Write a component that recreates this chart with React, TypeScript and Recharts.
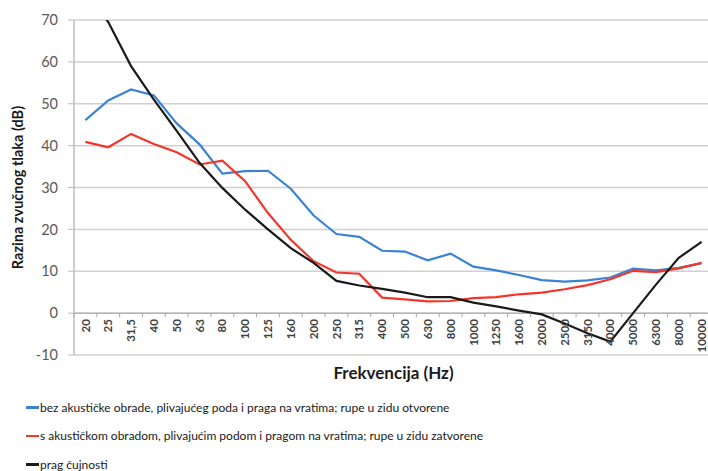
import { LineChart, Line, XAxis, YAxis, CartesianGrid, ReferenceLine, Legend } from "recharts";

const frequencies = [
  "20", "25", "31,5", "40", "50", "63", "80", "100", "125", "160", "200", "250", "315", "400",
  "500", "630", "800", "1000", "1250", "1600", "2000", "2500", "3150", "4000", "5000", "6300", "8000", "10000",
];

// bez akustičke obrade (dB)
const bezObrade = [
  46.1, 50.8, 53.4, 52.0, 45.3, 40.3, 33.3, 33.9, 34.0, 29.7, 23.3, 18.9, 18.2, 14.9,
  14.7, 12.6, 14.2, 11.1, 10.2, 9.1, 7.9, 7.5, 7.8, 8.5, 10.6, 10.2, 10.8, 11.9,
];

// s akustičkom obradom (dB)
const sObradom = [
  40.9, 39.6, 42.8, 40.4, 38.4, 35.5, 36.4, 31.5, 23.9, 17.5, 12.4, 9.7, 9.4, 3.7,
  3.3, 2.8, 2.9, 3.6, 3.8, 4.5, 4.9, 5.7, 6.7, 8.1, 10.1, 9.8, 10.7, 12.0,
];

// prag čujnosti (dB)
const pragCujnosti = [
  78, 69.5, 59, 51, 43.5, 35.9, 29.9, 24.7, 20, 15.5, 12, 7.7, 6.6, 5.8,
  4.9, 3.8, 3.8, 2.5, 1.6, 0.6, -0.3, -2.5, -4.8, -6.8, 0, 6.8, 13.2, 17,
];

const yTicks = [-10, 0, 10, 20, 30, 40, 50, 60, 70];

const seriesOrder = ["bez", "s", "prag"];
const seriesNames: Record<string, string> = {
  bez: "bez akustičke obrade, plivajućeg poda i praga na vratima; rupe u zidu otvorene",
  s: "s akustičkom obradom, plivajućim podom i pragom na vratima; rupe u zidu zatvorene",
  prag: "prag čujnosti",
};

const data = frequencies.map((f, i) => ({
  f,
  bez: bezObrade[i],
  s: sObradom[i],
  prag: pragCujnosti[i],
}));

const FONT = "Lato, 'Open Sans', sans-serif";
const CHART_W = 716;
const CHART_H = 471;
const MARGIN = { top: 20, right: 3, bottom: 96, left: 0 };
const Y_AXIS_W = 74;
const X_AXIS_H = 20;
const PLOT_H = CHART_H - MARGIN.top - MARGIN.bottom - X_AXIS_H;
const PLOT_W = CHART_W - MARGIN.left - MARGIN.right - Y_AXIS_W;
const BAND = PLOT_W / frequencies.length;
const Y_MIN = -10;
const Y_MAX = 70;
const ZERO_LIFT = (PLOT_H * (0 - Y_MIN)) / (Y_MAX - Y_MIN);

const FreqTick = (props: any) => {
  const { x, y, payload, index } = props;
  const y0 = y - ZERO_LIFT;
  const left = x - BAND / 2;
  return (
    <g>
      <line x1={left} x2={left} y1={y0} y2={y0 + 4} stroke="#a6a6a6" />
      {index === frequencies.length - 1 && (
        <line x1={x + BAND / 2} x2={x + BAND / 2} y1={y0} y2={y0 + 4} stroke="#a6a6a6" />
      )}
      <text
        transform={`translate(${x},${y0 + 6}) rotate(-90)`}
        textAnchor="end"
        dy="0.36em"
        fontSize={11.5}
        fontWeight="bold"
        fontFamily={FONT}
        fill="#404040"
      >
        {payload.value}
      </text>
    </g>
  );
};

const YTitle = () => (
  <text
    transform={`translate(23,${MARGIN.top + PLOT_H / 2}) rotate(-90)`}
    textAnchor="middle"
    fontSize={14.5}
    fontWeight="bold"
    fontFamily={FONT}
    fill="#1a1a1a"
  >
    Razina zvučnog tlaka (dB)
  </text>
);

const XTitle = (props: any) => {
  const { viewBox } = props;
  return (
    <text
      x={viewBox.x + viewBox.width / 2}
      y={viewBox.y + 24}
      textAnchor="middle"
      fontSize={17}
      fontWeight="bold"
      fontFamily={FONT}
      fill="#1a1a1a"
    >
      Frekvencija (Hz)
    </text>
  );
};

const LegendList = ({ payload }: any) => {
  const items = seriesOrder
    .map((k) => (payload || []).find((p: any) => p.dataKey === k))
    .filter(Boolean);
  return (
    <div style={{ fontFamily: FONT, fontSize: 12, color: "#1a1a1a" }}>
      {items.map((p: any) => (
        <div key={p.dataKey} style={{ display: "flex", alignItems: "center", height: 28.5 }}>
          <span
            style={{
              display: "inline-block",
              width: 13,
              height: 2.5,
              background: p.color,
              marginRight: 1,
            }}
          />
          <span>{p.value}</span>
        </div>
      ))}
    </div>
  );
};

export default function App() {
  return (
    <div style={{ position: "absolute", left: 0, top: 0, width: 708, height: 471, overflow: "hidden", background: "#fff" }}>
      <LineChart width={CHART_W} height={CHART_H} data={data} margin={MARGIN}>
        <CartesianGrid vertical={false} stroke="#d0d0d0" strokeWidth={1.5} />
        <XAxis
          dataKey="f"
          interval={0}
          height={X_AXIS_H}
          padding={{ left: BAND / 2, right: BAND / 2 }}
          axisLine={false}
          tickLine={false}
          tickSize={0}
          tickMargin={0}
          tick={<FreqTick />}
          label={{ content: <XTitle /> }}
        />
        <YAxis
          type="number"
          domain={[Y_MIN, Y_MAX]}
          ticks={yTicks}
          allowDataOverflow
          width={Y_AXIS_W}
          axisLine={{ stroke: "#bdbdbd", strokeWidth: 1.5 }}
          tickLine={{ stroke: "#bdbdbd" }}
          tickSize={6}
          tickMargin={10}
          tick={{ fontSize: 14.5, fill: "#595959", fontFamily: FONT }}
          label={{ content: <YTitle /> }}
        />
        <ReferenceLine y={0} stroke="#b5b5b5" strokeWidth={1.5} />
        <Line
          type="linear"
          dataKey="bez"
          name={seriesNames.bez}
          stroke="#3a83d4"
          strokeWidth={2.2}
          dot={false}
          isAnimationActive={false}
        />
        <Line
          type="linear"
          dataKey="s"
          name={seriesNames.s}
          stroke="#f5342a"
          strokeWidth={2.2}
          dot={false}
          isAnimationActive={false}
        />
        <Line
          type="linear"
          dataKey="prag"
          name={seriesNames.prag}
          stroke="#1a1a1a"
          strokeWidth={2.2}
          dot={false}
          isAnimationActive={false}
        />
        <Legend
          layout="vertical"
          align="center"
          verticalAlign="middle"
          content={<LegendList />}
          wrapperStyle={{ position: "absolute", left: 26, top: 393, width: 680 }}
        />
      </LineChart>
    </div>
  );
}
